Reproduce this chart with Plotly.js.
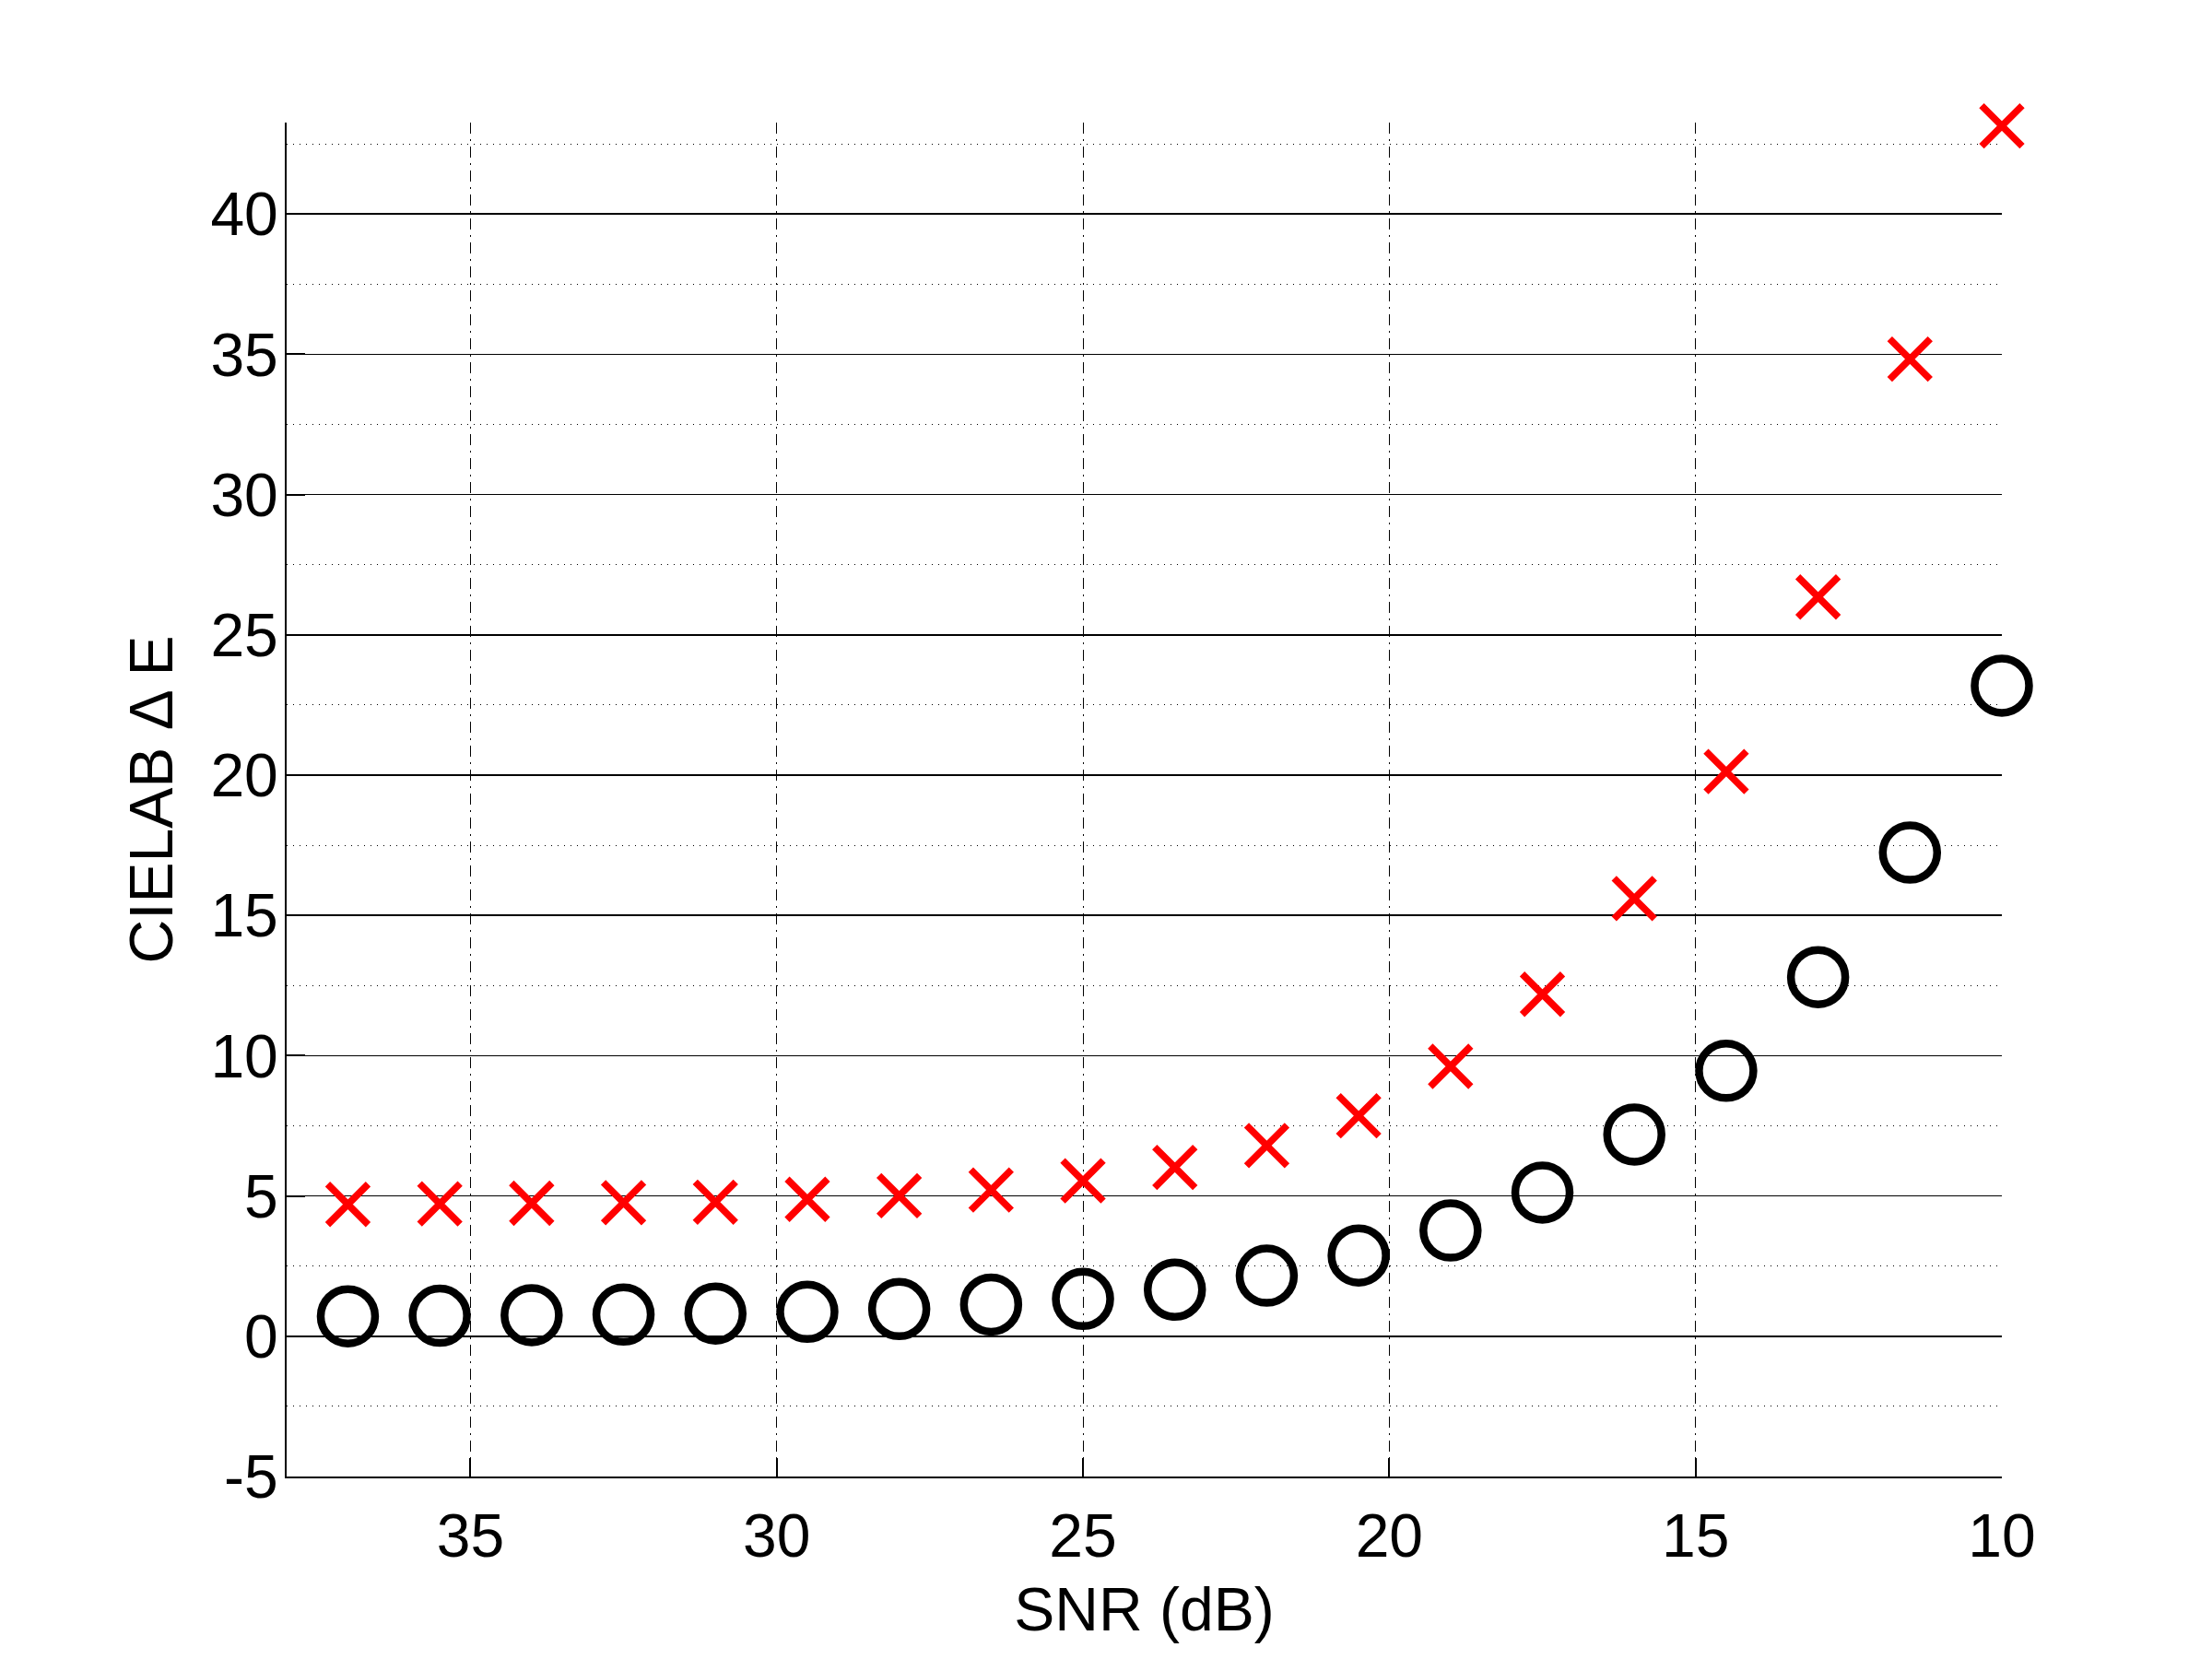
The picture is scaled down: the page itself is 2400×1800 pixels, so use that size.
<!DOCTYPE html>
<html>
<head>
<meta charset="utf-8">
<script src="https://cdn.plot.ly/plotly-3.0.1.min.js"></script>
<style>
  html, body { margin: 0; padding: 0; background: #fff; }
  #chart { width: 2400px; height: 1800px; }
</style>
</head>
<body>
<div id="chart"></div>
<script>
// SNR values (dB)
const snr = [37, 35.5, 34, 32.5, 31, 29.5, 28, 26.5, 25, 23.5, 22, 20.5, 19, 17.5, 16, 14.5, 13, 11.5, 10];
// red crosses
const deltaE_cross = [4.70, 4.72, 4.74, 4.76, 4.78, 4.88, 5.01, 5.21, 5.54, 6.02, 6.80, 7.86, 9.62, 12.19, 15.60, 20.13, 26.35, 34.83, 43.14];
// black circles
const deltaE_circle = [0.71, 0.73, 0.75, 0.77, 0.81, 0.87, 0.97, 1.13, 1.33, 1.66, 2.16, 2.88, 3.77, 5.12, 7.19, 9.46, 12.80, 17.24, 23.19];

const xTickVals = [35, 30, 25, 20, 15, 10];
const xTickLabels = ['35', '30', '25', '20', '15', '10'];
const yTickVals = [-5, 0, 5, 10, 15, 20, 25, 30, 35, 40];
const yTickLabels = ['-5', '0', '5', '10', '15', '20', '25', '30', '35', '40'];

const xTitle = 'SNR (dB)';
const yTitle = 'CIELAB \u0394 E';

const font = 'Liberation Sans, Arial, Helvetica, sans-serif';

const traces = [
  {
    x: snr, y: deltaE_circle, type: 'scatter', mode: 'markers',
    marker: { symbol: 'circle-open', size: 59, color: '#000000', line: { width: 8.5, color: '#000000' } },
    showlegend: false, cliponaxis: false
  },
  {
    x: snr, y: deltaE_cross, type: 'scatter', mode: 'markers',
    marker: { symbol: 'x-thin-open', size: 44, color: '#ff0000', line: { width: 7.5, color: '#ff0000' } },
    showlegend: false, cliponaxis: false
  }
];

const layout = {
  width: 2400, height: 1800,
  paper_bgcolor: '#ffffff', plot_bgcolor: '#ffffff',
  margin: { l: 311, r: 228, t: 133, b: 198, autoexpand: false },
  font: { family: font, size: 66, color: '#000' },
  xaxis: {
    range: [38, 10], autorange: false,
    tickmode: 'array', tickvals: xTickVals, ticktext: xTickLabels,
    ticks: 'inside', ticklen: 20, tickwidth: 2, tickcolor: '#000',
    ticklabelstandoff: 6,
    showline: true, linecolor: '#000', linewidth: 2, mirror: false,
    showgrid: true, gridcolor: '#000', gridwidth: 1, griddash: '12px,6px,2px,6px',
    zeroline: false,
    tickfont: { family: font, size: 66, color: '#000' },
    title: { text: xTitle, font: { family: font, size: 66, color: '#000' }, standoff: 21 },
    automargin: false
  },
  yaxis: {
    range: [-5, 43.26], autorange: false,
    tickmode: 'array', tickvals: yTickVals, ticktext: yTickLabels,
    ticks: 'inside', ticklen: 20, tickwidth: 2, tickcolor: '#000',
    ticklabelstandoff: -6,
    showline: true, linecolor: '#000', linewidth: 2, mirror: false,
    showgrid: true, gridcolor: '#000', gridwidth: 1.5,
    zeroline: false,
    minor: { dtick: 2.5, tick0: 0, showgrid: true, gridcolor: '#000', gridwidth: 1, griddash: '1px,6px', ticks: '' },
    tickfont: { family: font, size: 66, color: '#000' },
    title: { text: yTitle, font: { family: font, size: 66, color: '#000' }, standoff: 19 },
    automargin: false
  }
};

Plotly.newPlot('chart', traces, layout, { staticPlot: true, displayModeBar: false });
</script>
</body>
</html>
